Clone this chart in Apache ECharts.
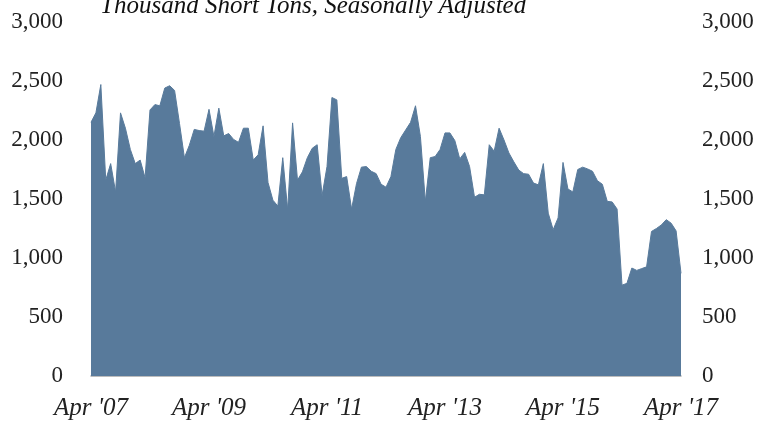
<!DOCTYPE html>
<html>
<head>
<meta charset="utf-8">
<script src="https://cdn.jsdelivr.net/npm/echarts@6/dist/echarts.min.js"></script>
<style>
  html, body { margin: 0; padding: 0; background: #ffffff; }
  #chart { width: 765px; height: 422px; }
</style>
</head>
<body>
<div id="chart"></div>
<script>
// Monthly shipments, Apr 2007 – Apr 2017 (thousand short tons, SA)
const startYear = 2007;
const startMonth = 3; // April (0-based)

const values = [
  2150, 2230, 2470, 1660, 1800, 1560, 2230, 2100, 1920, 1800, 1830, 1680,
  2255, 2300, 2290, 2440, 2460, 2420, 2140, 1850, 1955, 2090, 2080, 2075,
  2260, 2030, 2270, 2035, 2055, 2005, 1980, 2100, 2100, 1830, 1875, 2120,
  1640, 1490, 1440, 1850, 1410, 2145, 1660, 1730, 1850, 1930, 1960, 1530,
  1775, 2360, 2340, 1675, 1690, 1415, 1630, 1770, 1775, 1735, 1715, 1625,
  1600, 1690, 1920, 2020, 2085, 2150, 2290, 2030, 1480, 1850, 1860, 1920,
  2060, 2060, 1995, 1840, 1895, 1775, 1515, 1540, 1535, 1960, 1905, 2100,
  2000, 1890, 1815, 1745, 1715, 1710, 1635, 1620, 1800, 1380, 1240, 1340,
  1810, 1585, 1560, 1750, 1770, 1755, 1735, 1655, 1625, 1480, 1475, 1415,
  770, 785, 915, 895, 910, 925, 1225, 1250, 1280, 1325, 1295, 1230,
  870
];

const yTicks = [0, 500, 1000, 1500, 2000, 2500, 3000];
const subtitle = 'Thousand Short Tons, Seasonally Adjusted';

const monthNames = ['Jan','Feb','Mar','Apr','May','Jun','Jul','Aug','Sep','Oct','Nov','Dec'];
const categories = values.map((_, i) => {
  const m = (startMonth + i) % 12;
  const y = startYear + Math.floor((startMonth + i) / 12);
  return monthNames[m] + " '" + String(y).slice(2);
});

const serif = '"Liberation Serif", "DejaVu Serif", serif';
const fill = '#587a9b';

const yAxisBase = {
  type: 'value',
  min: yTicks[0],
  max: yTicks[yTicks.length - 1],
  interval: yTicks[1] - yTicks[0],
  splitLine: { show: false },
  axisLine: { show: false },
  axisTick: { show: false },
  axisLabel: {
    fontFamily: serif,
    fontSize: 23,
    color: '#222',
    formatter: v => v.toLocaleString('en-US')
  }
};

const chart = echarts.init(document.getElementById('chart'), null, { renderer: 'canvas' });
chart.setOption({
  animation: false,
  title: {
    text: subtitle,
    left: 95,
    top: -11,
    textStyle: { fontFamily: serif, fontStyle: 'italic', fontWeight: 'normal', fontSize: 25, color: '#111' }
  },
  grid: { left: 91, right: 84, top: 22, bottom: 46 },
  xAxis: {
    type: 'category',
    data: categories,
    boundaryGap: false,
    axisLine: { lineStyle: { color: '#a6a6a6', width: 1.5 } },
    axisTick: { show: false },
    axisLabel: {
      interval: 23,
      margin: 20,
      fontFamily: serif,
      fontStyle: 'italic',
      fontSize: 25,
      color: '#222',
      showMaxLabel: true
    }
  },
  yAxis: [
    Object.assign({}, yAxisBase, { position: 'left', axisLabel: Object.assign({}, yAxisBase.axisLabel, { margin: 28 }) }),
    Object.assign({}, yAxisBase, { position: 'right', axisLabel: Object.assign({}, yAxisBase.axisLabel, { margin: 21 }) })
  ],
  series: [{
    type: 'line',
    data: values,
    yAxisIndex: 0,
    symbol: 'none',
    lineStyle: { color: fill, width: 1 },
    areaStyle: { color: fill, opacity: 1 }
  }]
});
</script>
</body>
</html>
